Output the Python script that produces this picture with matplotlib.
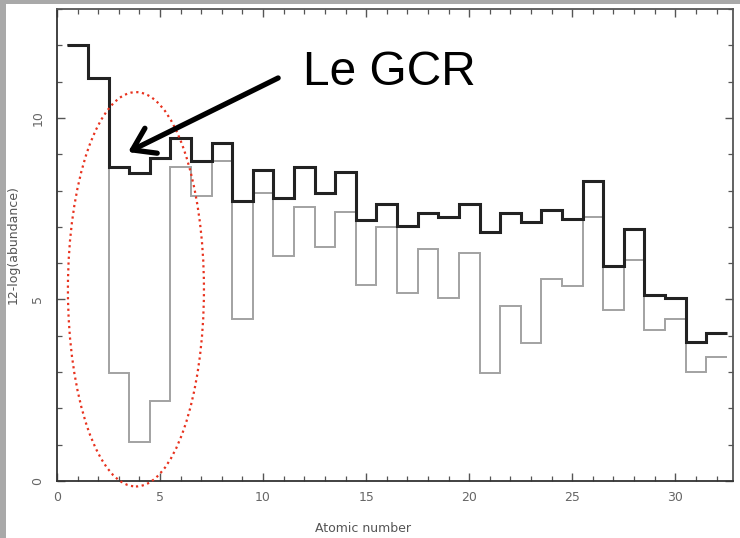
import numpy as np
import matplotlib
matplotlib.use("Agg")
import matplotlib.pyplot as plt
from matplotlib.patches import Ellipse, Rectangle

# ---- data ----
atomic_numbers = list(range(1, 33))
gcr_abundance = [12.0, 11.1, 8.65, 8.48, 8.9, 9.46, 8.8, 9.3, 7.7, 8.57,
                 7.79, 8.66, 7.93, 8.52, 7.2, 7.62, 7.03, 7.37, 7.26, 7.62,
                 6.87, 7.38, 7.12, 7.46, 7.21, 8.26, 5.92, 6.95, 5.12, 5.03,
                 3.82, 4.08]
solar_abundance = [12.0, 11.1, 2.98, 1.08, 2.2, 8.65, 7.86, 8.8, 4.45, 7.93,
                   6.2, 7.54, 6.44, 7.4, 5.41, 6.99, 5.19, 6.38, 5.05, 6.27,
                   2.98, 4.81, 3.81, 5.55, 5.37, 7.26, 4.72, 6.09, 4.15, 4.47,
                   2.99, 3.42]
x_ticks = [0, 5, 10, 15, 20, 25, 30]
y_ticks = [0, 5, 10]
annotation_text = "Le GCR"

W, H = 740, 538
fig = plt.figure(figsize=(W / 100, H / 100), dpi=100)
fig.patch.set_facecolor("white")

# gray frame strips of the screenshot
fig.add_artist(Rectangle((0, 0), 6 / W, 1, transform=fig.transFigure,
                         facecolor="#a9a9a9", edgecolor="none", zorder=0))
fig.add_artist(Rectangle((0, 1 - 4 / H), 1, 4 / H, transform=fig.transFigure,
                         facecolor="#a9a9a9", edgecolor="none", zorder=0))

ax = fig.add_axes([57 / W, 1 - 481 / H, (733 - 57) / W, (481 - 9) / H])
ax.set_xlim(0, 32.8)
ax.set_ylim(0, 13)

edges = np.arange(atomic_numbers[0] - 0.5, atomic_numbers[-1] + 1.0, 1.0)
ax.stairs(solar_abundance, edges, baseline=None, color="#a2a2a2", lw=1.4, zorder=2)
ax.stairs(gcr_abundance, edges, baseline=None, color="#222222", lw=2.2, zorder=3)

# axes styling
for s in ax.spines.values():
    s.set_color("#555555")
    s.set_linewidth(1.3)
ax.spines["left"].set_color("#333333")
ax.spines["bottom"].set_color("#333333")

ax.set_xticks(x_ticks)
ax.set_yticks(y_ticks)
ax.set_xticks(np.arange(0, 33, 1), minor=True)
ax.set_yticks(np.arange(0, 14, 1), minor=True)
ax.tick_params(which="both", direction="in", top=True, right=True,
               color="#555555", labelcolor="#666666", labelsize=9)
ax.tick_params(which="major", length=6, width=1.0)
ax.tick_params(which="minor", length=3.5, width=0.9)
ax.tick_params(axis="x", pad=7)
ax.tick_params(axis="y", pad=9)
for lab in ax.get_yticklabels():
    lab.set_rotation(90)
    lab.set_verticalalignment("center")

ax.set_xlabel("Atomic number", fontsize=9, color="#555555")
ax.xaxis.set_label_coords((363 - 57) / (733 - 57), -(522 - 481) / (481 - 9))
ax.set_ylabel("12-log(abundance)", fontsize=9, color="#555555")
ax.yaxis.set_label_coords(-(57 - 20) / (733 - 57), 0.5)

# red dotted ellipse highlighting Li, Be, B
ell = Ellipse((3.83, 5.28), 6.6, 10.86, fill=False, edgecolor="#e8321e",
              linestyle=(0, (1, 1.6)), lw=1.6, clip_on=False, zorder=4)
ax.add_patch(ell)

# arrow + text
ax.annotate("", xy=(3.45, 9.06), xytext=(10.73, 11.1),
            arrowprops=dict(arrowstyle="->,head_length=0.6,head_width=0.4",
                            mutation_scale=25, lw=3.8, color="black",
                            capstyle="round", joinstyle="round",
                            shrinkA=0, shrinkB=0),
            zorder=5)
ax.text(11.94, 10.91, annotation_text, fontsize=34.5, family="Liberation Sans",
        color="black", ha="left", va="baseline", zorder=5)

fig.savefig("out.png", dpi=100, facecolor=fig.get_facecolor())
